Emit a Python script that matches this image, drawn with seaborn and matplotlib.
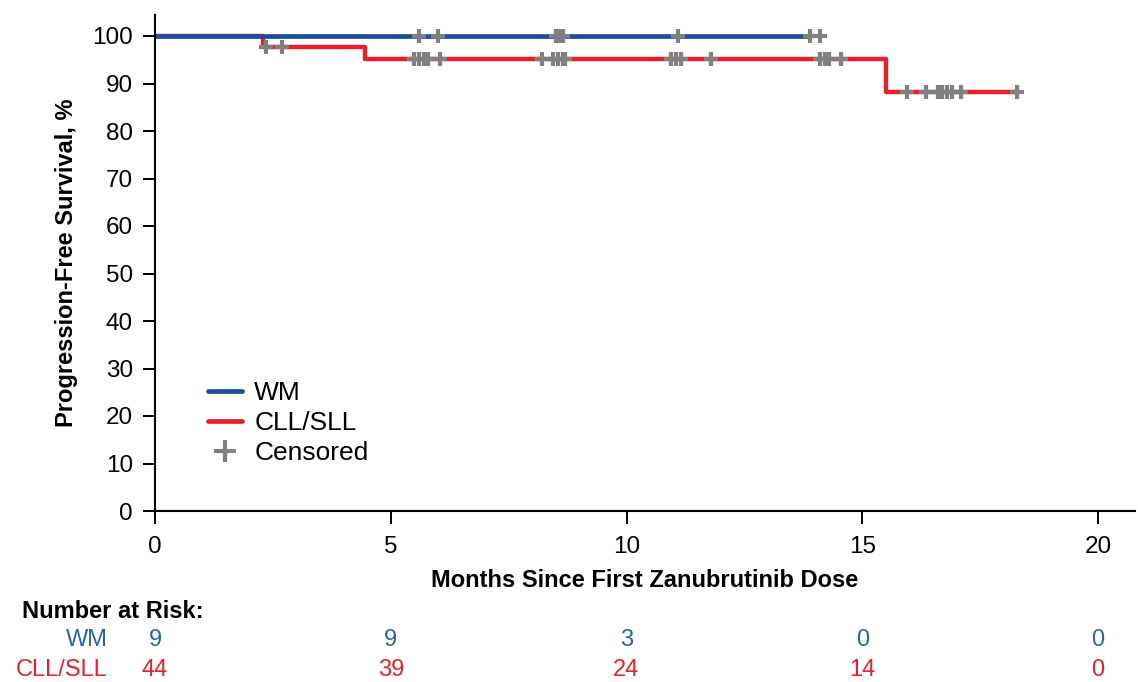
import numpy as np
import pandas as pd
import matplotlib
matplotlib.use("Agg")
import matplotlib.pyplot as plt
import matplotlib.transforms as mtrans
from matplotlib.lines import Line2D
import seaborn as sns

# ---- data ----
wm_times = [0.0, 13.9]
wm_surv = [100.0, 100.0]
wm_censor = [5.6, 6.0, 8.5, 8.55, 8.6, 8.65, 11.1, 13.9, 14.1]

cll_times = [0.0, 2.3, 4.45, 15.5, 18.3]
cll_surv = [100.0, 97.7, 95.2, 88.3, 88.3]
cll_censor = [2.35, 2.7, 5.5, 5.6, 5.7, 5.8, 6.05, 8.2, 8.45, 8.55, 8.65, 8.7,
              10.95, 11.05, 11.15, 11.8, 14.1, 14.2, 14.3, 14.55,
              15.95, 16.35, 16.6, 16.7, 16.8, 16.9, 17.1, 18.28]

risk_times = [0, 5, 10, 15, 20]
risk_wm = [9, 9, 3, 0, 0]
risk_cll = [44, 39, 24, 14, 0]

BLUE = "#1c4f94"
BLUE_TXT = "#2a63ad"
RED = "#e8202a"
GRAY = "#808080"

sns.set_style("ticks")
plt.rcParams['font.family'] = ['Liberation Sans', 'DejaVu Sans']
plt.rcParams['text.color'] = 'black'
plt.rcParams['axes.labelcolor'] = 'black'

fig = plt.figure(figsize=(11.38, 6.82), dpi=100)
ax = fig.add_axes([155/1138, 171/682, 980/1138, 496/682])

def step_at(times, surv, t):
    idx = np.searchsorted(times, t, side='right') - 1
    return np.asarray(surv)[idx]

df_wm = pd.DataFrame({"t": wm_times, "s": wm_surv})
df_cll = pd.DataFrame({"t": cll_times, "s": cll_surv})
sns.lineplot(data=df_cll, x="t", y="s", drawstyle="steps-post", color=RED, lw=3.2, ax=ax)
sns.lineplot(data=df_wm, x="t", y="s", drawstyle="steps-post", color=BLUE, lw=3.4, ax=ax)

cw = pd.DataFrame({"t": wm_censor, "s": step_at(wm_times, wm_surv, wm_censor)})
cc = pd.DataFrame({"t": cll_censor, "s": step_at(cll_times, cll_surv, cll_censor)})
for d in (cw, cc):
    ax.scatter(d["t"], d["s"], marker="+", s=110, color=GRAY, linewidths=3, zorder=5)

ax.set_xlim(0, 980/47.15)
ax.set_ylim(0, 496/4.75)
ax.set_xticks([0, 5, 10, 15, 20])
ax.set_yticks(range(0, 101, 10))
ax.tick_params(axis='both', labelsize=17.5, length=9, width=1.4, direction='out',
               colors='black', labelcolor='black')
ax.tick_params(axis='x', pad=9)
ax.tick_params(axis='y', pad=7)
for sp in ["top", "right"]:
    ax.spines[sp].set_visible(False)
for sp in ["left", "bottom"]:
    ax.spines[sp].set_linewidth(1.5)
    ax.spines[sp].set_color("black")

ax.set_xlabel("Months Since First Zanubrutinib Dose", fontsize=17, fontweight='bold', labelpad=8)
ax.set_ylabel("Progression-Free Survival, %", fontsize=17, fontweight='bold', labelpad=10)

handles = [Line2D([], [], color=BLUE, lw=3.4),
           Line2D([], [], color=RED, lw=3.4),
           Line2D([], [], color=GRAY, marker="+", ls="none", markersize=16, mew=3)]
ax.legend(handles, ["WM", "CLL/SLL", "Censored"], loc="lower left",
          bbox_to_anchor=(0.03, 0.045), frameon=False, fontsize=19,
          handlelength=1.3, handletextpad=0.45, labelspacing=0.22)

# number at risk
fig.text(22/1138, 1 - 612/682, "Number at Risk:", fontsize=17, fontweight='bold', va='center', ha='left')
fig.text(108/1138, 1 - 640/682, "WM", fontsize=17, color=BLUE_TXT, va='center', ha='right')
fig.text(108/1138, 1 - 670/682, "CLL/SLL", fontsize=17, color=RED, va='center', ha='right')
tr = mtrans.blended_transform_factory(ax.transData, fig.transFigure)
for t, a, b in zip(risk_times, risk_wm, risk_cll):
    ax.text(t, 1 - 640/682, str(a), transform=tr, fontsize=17, color=BLUE_TXT,
            ha='center', va='center')
    ax.text(t, 1 - 670/682, str(b), transform=tr, fontsize=17, color=RED,
            ha='center', va='center')

fig.savefig("out.png", dpi=100)
